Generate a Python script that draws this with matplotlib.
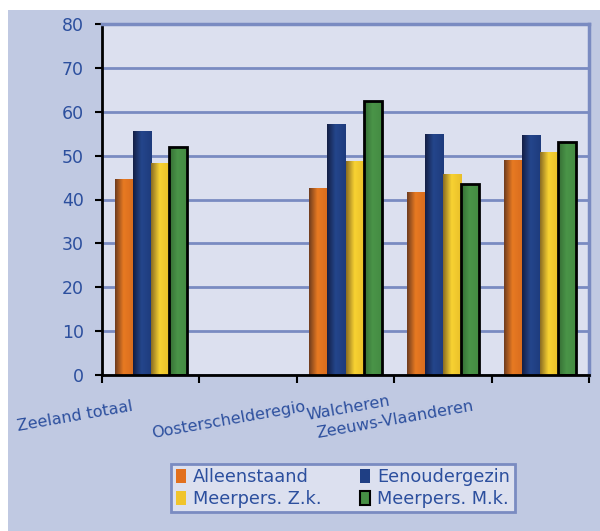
import numpy as np
import matplotlib.pyplot as plt
from matplotlib.patches import Rectangle, Patch
from matplotlib.colors import LinearSegmentedColormap

categories = ["Zeeland totaal", "", "Oosterschelderegio", "Walcheren", "Zeeuws-Vlaanderen"]
series = ["Alleenstaand", "Eenoudergezin", "Meerpers. Z.k.", "Meerpers. M.k."]
alleenstaand = [44.5, np.nan, 42.4, 41.7, 49.0]
eenoudergezin = [55.4, np.nan, 57.2, 54.9, 54.7]
meerpers_zk = [48.3, np.nan, 48.7, 45.8, 50.6]
meerpers_mk = [51.9, np.nan, 62.4, 43.5, 53.1]
values = [alleenstaand, eenoudergezin, meerpers_zk, meerpers_mk]

# gradient stops per series (left dark -> bright -> right)
grads = [
    ["#6e3c1e", "#e87a22", "#d86c1e"],
    ["#141f45", "#24468c", "#1e3b7c"],
    ["#8a6c22", "#f8d232", "#e8bf2a"],
    ["#356c34", "#4a9548", "#448a42"],
]
solid = ["#e2701e", "#1f3f84", "#f0c42c", "#468f45"]
edges = ["none", "none", "none", "black"]

txt = "#2c4f9e"
grid_c = "#7a8bc1"

fig = plt.figure(figsize=(6, 5.31), dpi=100, facecolor="white")
fig.patches.append(Rectangle((8 / 600, 0), 1, 1 - 10 / 531, transform=fig.transFigure,
                             facecolor="#c0c9e2", edgecolor="none", zorder=-10))
ax = fig.add_axes([102 / 600, 1 - 375 / 531, 487 / 600, 351 / 531])
ax.set_facecolor("#dce0ef")

n = len(series)
w = 0.185
x = np.arange(len(categories)) + 0.5
grad = np.linspace(0, 1, 64).reshape(1, -1)
for i, (vals, g) in enumerate(zip(values, grads)):
    cmap = LinearSegmentedColormap.from_list(series[i], [(0, g[0]), (0.45, g[1]), (1, g[2])])
    xs = x + (i - (n - 1) / 2) * w
    bars = ax.bar(xs, vals, width=w, facecolor="none", edgecolor=edges[i],
                  linewidth=2 if edges[i] != "none" else 0, zorder=4)
    for b, v in zip(bars, vals):
        if np.isnan(v):
            continue
        ax.imshow(grad, cmap=cmap, extent=[b.get_x(), b.get_x() + w, 0, v],
                  aspect="auto", interpolation="bilinear", zorder=3)

ax.set_xlim(0, len(categories))
ax.set_ylim(0, 80)
ax.set_yticks(range(0, 81, 10))
ax.set_xticks(range(0, len(categories) + 1))
ax.set_xticklabels([])
ax.yaxis.grid(True, color=grid_c, linewidth=2)
ax.set_axisbelow(True)
ax.tick_params(axis="y", direction="out", length=5, width=1.5, color="black",
               labelsize=12.5, labelcolor=txt, pad=8)
ax.tick_params(axis="x", direction="out", length=6, width=1.5, color="black")
for s in ["left", "bottom"]:
    ax.spines[s].set_color("black")
    ax.spines[s].set_linewidth(2)
for s in ["right", "top"]:
    ax.spines[s].set_color(grid_c)
    ax.spines[s].set_linewidth(2.5)
ax.spines["bottom"].set_zorder(6)

# category labels (Excel squeezed them to the left)
label_pos = [(131, 399), None, (304, 399), (389, 393), (472, 399)]
for name, pos in zip(categories, label_pos):
    if not name:
        continue
    fig.text(pos[0] / 600, 1 - pos[1] / 531, name, rotation=10, rotation_mode="anchor",
             ha="right", va="top", fontsize=11.5, color=txt)

# legend fills row by row in the reference
order = [0, 2, 1, 3]
handles = [Patch(facecolor=solid[i], edgecolor="black" if edges[i] != "none" else solid[i],
                 linewidth=1.5 if edges[i] != "none" else 0) for i in order]
leg = fig.legend(handles, [series[i] for i in order], loc="center",
                 bbox_to_anchor=(343 / 600, 1 - 488 / 531),
                 ncol=2, fontsize=12.8, frameon=True, fancybox=False, labelcolor=txt,
                 handlelength=0.55, handleheight=0.85, handletextpad=0.4, columnspacing=2.2,
                 borderpad=0.25, labelspacing=0.2, borderaxespad=0)
leg.get_frame().set_facecolor("#dce0ef")
leg.get_frame().set_edgecolor(grid_c)
leg.get_frame().set_linewidth(2)
leg.get_frame().set_alpha(1)

fig.savefig("out.png", dpi=100, facecolor="white")
